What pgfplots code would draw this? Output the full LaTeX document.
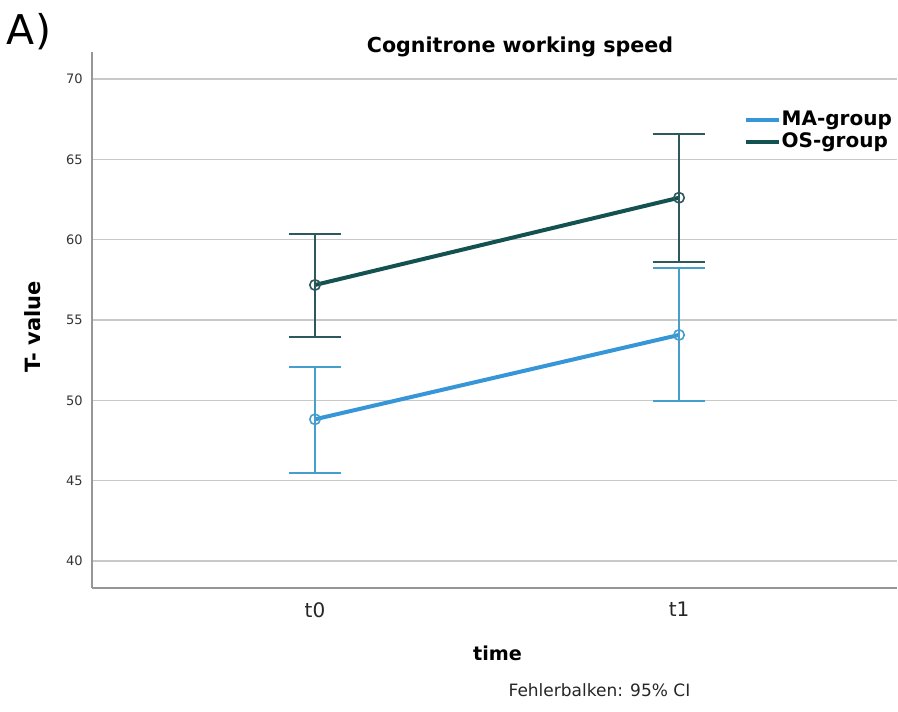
\documentclass[border=0pt]{standalone}
\usepackage{fontspec}
\setmainfont{DejaVu Sans}
\usepackage{pgfplots}
\pgfplotsset{compat=1.18}
\usepackage{pgfplotstable}

\definecolor{maline}{RGB}{55,150,215}
\definecolor{mabar}{RGB}{70,158,205}
\definecolor{osline}{RGB}{20,82,82}
\definecolor{osbar}{RGB}{45,88,92}
\definecolor{gridc}{RGB}{200,200,200}
\definecolor{axisc}{RGB}{150,150,150}

\pgfplotstableread{
x y ep em
0 48.82 3.28 3.32
1 54.07 4.15 4.11
}\magroup
\pgfplotstableread{
x y ep em
0 57.18 3.17 3.22
1 62.61 3.97 3.98
}\osgroup

\begin{document}
\begin{tikzpicture}
\path[use as bounding box] (0,0) rectangle (449pt,355.5pt);
\node[font=\fontsize{20.5}{24}\selectfont, inner sep=0pt] at (14.5pt,339.5pt) {A)};
\begin{axis}[
  at={(46pt,61.5pt)}, anchor=south west,
  scale only axis, width=402.5pt, height=268pt,
  xmin=-0.6126, xmax=1.5988,
  ymin=38.32, ymax=71.68,
  axis lines*=left,
  axis line style={axisc, line width=0.6pt},
  major tick length=0pt,
  xtick={0,1}, xticklabels={t0,t1},
  ytick={40,45,...,70},
  ymajorgrids, grid style={gridc, line width=0.75pt},
  /pgf/number format/assume math mode=true,
  yticklabel style={font=\fontsize{6.5}{8}\selectfont, inner sep=0pt, xshift=-4.5pt, text=black!80},
  xticklabel style={font=\fontsize{10}{12}\selectfont, inner sep=0pt, yshift=-7pt, text=black!85},
  every axis title shift=0pt,
  title={\bfseries Cognitrone working speed},
  title style={at={(axis description cs:0.5317,1.0093)}, anchor=center, font=\fontsize{10.3}{12}\selectfont, inner sep=0pt},
  xlabel={\bfseries time},
  xlabel style={at={(axis description cs:0.5037,-0.121)}, anchor=center, font=\fontsize{9.6}{11}\selectfont, inner sep=0pt},
  ylabel={\bfseries T- value},
  ylabel style={at={(axis description cs:-0.0733,0.487)}, anchor=center, rotate=0, font=\fontsize{10.5}{12}\selectfont, inner sep=0pt},
  legend style={at={(axis description cs:0.8090,0.893)}, anchor=north west, draw=none, fill=none, inner sep=0pt, row sep=1.2pt,
    font=\bfseries\fontsize{10}{12}\selectfont, nodes={inner sep=0.5pt}},
  legend cell align=left,
  legend image code/.code={\draw[#1, line width=2pt] (0pt,0pt) -- (16.5pt,0pt);},
  clip=false,
]
\addplot[maline, line width=2pt, mark=o, mark size=2.6pt,
  mark options={mabar, line width=0.8pt, solid, fill=none},
  error bars/.cd, y dir=both, y explicit,
  error bar style={mabar, line width=0.75pt},
  error mark options={mabar, line width=1pt, rotate=90, mark size=13pt}]
  table[x=x, y=y, y error plus=ep, y error minus=em]{\magroup};
\addlegendentry{MA-group}
\addplot[osline, line width=2pt, mark=o, mark size=2.6pt,
  mark options={osbar, line width=0.8pt, solid, fill=none},
  error bars/.cd, y dir=both, y explicit,
  error bar style={osbar, line width=0.75pt},
  error mark options={osbar, line width=1pt, rotate=90, mark size=13pt}]
  table[x=x, y=y, y error plus=ep, y error minus=em]{\osgroup};
\addlegendentry{OS-group}
\node[font=\fontsize{8.5}{10}\selectfont, inner sep=0pt, text=black!85] at (axis description cs:0.6304,-0.19) {Fehlerbalken: 95\% CI};
\end{axis}
\end{tikzpicture}
\end{document}
